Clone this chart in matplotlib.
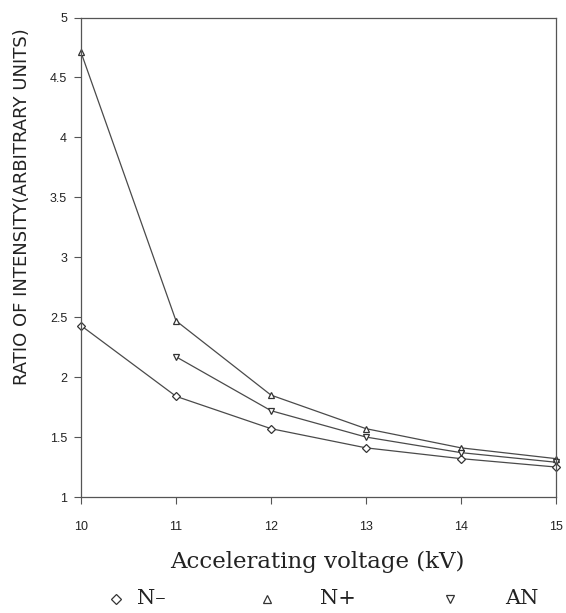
import matplotlib
matplotlib.use("Agg")
import matplotlib.pyplot as plt
from matplotlib.lines import Line2D

voltage = [10, 11, 12, 13, 14, 15]
n_minus = [2.43, 1.84, 1.57, 1.41, 1.32, 1.25]
n_plus = [4.71, 2.47, 1.85, 1.57, 1.41, 1.32]
an = [None, 2.17, 1.72, 1.50, 1.37, 1.29]

x_ticks = [10, 11, 12, 13, 14, 15]
y_ticks = [1, 1.5, 2, 2.5, 3, 3.5, 4, 4.5, 5]
y_tick_labels = ["1", "1.5", "2", "2.5", "3", "3.5", "4", "4.5", "5"]

fig = plt.figure(figsize=(5.66, 6.13), dpi=100)
ax = fig.add_axes([81/566, 1-497/613, (556-81)/566, (497-17.5)/613])

lc = "#4a4a4a"
mk = dict(markerfacecolor="white", markeredgecolor="#333333", markersize=5, markeredgewidth=0.9)

an_x = [v for v, a in zip(voltage, an) if a is not None]
an_y = [a for a in an if a is not None]

ax.plot(voltage, n_minus, color=lc, lw=0.9, marker="D", **{**mk, "markersize": 4}, clip_on=False)
ax.plot(voltage, n_plus, color=lc, lw=0.9, marker="^", **mk, clip_on=False)
ax.plot(an_x, an_y, color=lc, lw=0.9, marker="v", **mk, clip_on=False)

ax.set_xlim(10, 15)
ax.set_ylim(1, 5)
ax.set_xticks(x_ticks)
ax.set_xticklabels([str(t) for t in x_ticks], fontsize=9, family="Liberation Sans", color="#222222")
ax.set_yticks(y_ticks)
ax.set_yticklabels(y_tick_labels, fontsize=9, family="Liberation Sans", color="#222222")
ax.tick_params(direction="out", length=5, width=0.8, color="#555555")
ax.tick_params(axis="x", pad=12)
ax.tick_params(axis="y", pad=5)
for s in ax.spines.values():
    s.set_color("#555555")
    s.set_linewidth(0.9)

fig.text(22/566, 1-207/613, "RATIO OF INTENSITY(ARBITRARY UNITS)", rotation=90,
         ha="center", va="center", fontsize=13, family="DejaVu Sans", color="#222222")
fig.text(317/566, 1-562/613, "Accelerating voltage (kV)", ha="center", va="center",
         fontsize=16.5, family="DejaVu Serif", color="#222222")

# legend row
ly = 1 - 599/613
legend_items = [("D", 116, 4, "N\u2013", 137), ("^", 267, 5, "N+", 320), ("v", 450, 5, "AN", 505)]
for m, mx, ms, lab, tx in legend_items:
    fig.add_artist(Line2D([mx/566], [ly], marker=m, markersize=ms+1, markerfacecolor="white",
                          markeredgecolor="#333333", markeredgewidth=0.9, linestyle="none",
                          transform=fig.transFigure))
    fig.text(tx/566, ly, lab, ha="left", va="center", fontsize=15, family="DejaVu Serif", color="#222222")

fig.savefig("out.png", dpi=100)
